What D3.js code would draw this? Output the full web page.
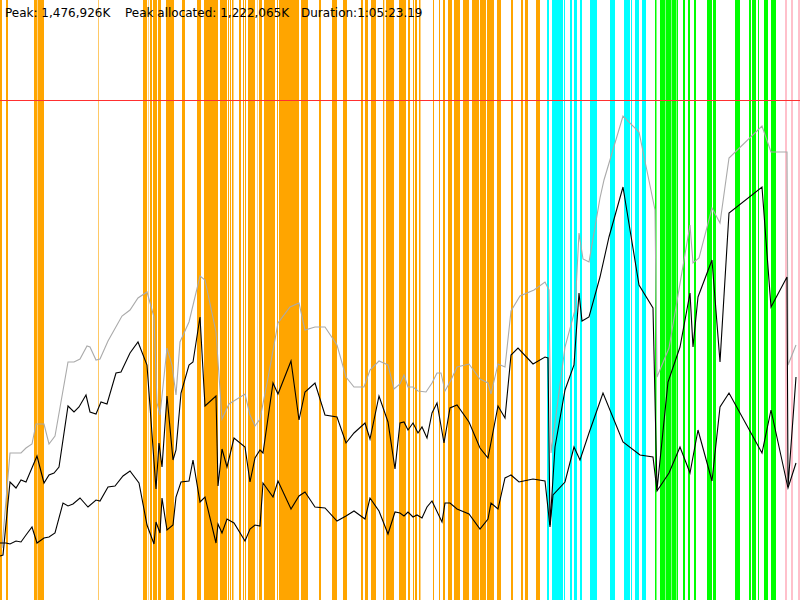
<!DOCTYPE html>
<html>
<head>
<meta charset="utf-8">
<script src="https://cdn.jsdelivr.net/npm/d3@7"></script>
<style>
  html, body { margin: 0; padding: 0; background: #fff; }
  svg { display: block; }
</style>
</head>
<body>
<svg id="chart" width="800" height="600"></svg>
<script>
// ---- data (time in sample units 0..800, memory in chart units 0..600) ----
const headerLabels = ["Peak: 1,476,926K", "Peak allocated: 1,222,065K", "Duration:1:05:23.19"];
const limitValue = 500;

const orangeEvents = [[0,2],[6,8],[34,37],[37.5,44],[98,98.6],[143,147],[148,148.5],[150,152],[153,157],[158,161],[166,174],[182,185],[197,201],
  [204,218],[220,227],[228,229],[230,231],[232,233.5],[239,241],[243,244],[245,246],[248,255],[257,257.5],[259,262],[264,275],[277,278],[279,299],[301,308],
  [319,321],[332,337],[343,347],[361,363],[365,368],[371,376],[383,384.3],[386,394],[399,406],[408,410],[413,414],[415,417],[419,420.5],[433,434],[439,440],
  [443,445],[448,452],[454,460],[463,469],[472,479],[480,486],[487,494],[497,501],[511,513],[521,523],[525,528],[536,540]];
const cyanEvents = [[547,549],[552,563],[564,565],[570,572],[574,577],[580,582],[590,597],[610,615],[624,630],[631,632],[635,639],[642,646]];
const greenEvents = [[655,656.5],[660,665],[665.5,671],[671.5,676],[676.5,678],[683,685],[688,690],[694,696],[707,712],[713,716],[735,740],[749,751],[752,756],[758,759],[764,768],[771,776]];
const pinkEvents = [[785,787],[791,793],[798,800]];

const grayTimes = [2,10,21,26,32,36,44,49,55,68,74,80,87,90,96,100,108,122,130,138,147,154,157,160,167,172,176,180,189,200,205,216,222,229,245,250,255,260,268,278,290,299,305,315,325,337,346,354,364,370,379,388,394,400,404,408,413,418,426,432,437,441,445,451,457,469,480,488,491,498,505,511,520,534,545,549,551,565,575,579,583,589,600,604,623,639,655,657,669,690,693,699,712,720,729,762,771,787,788,796];
const grayValues = [52,147,147,152,156,176,176,156,164,238,238,241,254,253,240,241,259,284,290,302,308,283,197,185,252,235,205,258,278,324,320,268,181,196,206,185,174,181,222,277,293,297,270,273,273,255,223,213,213,230,239,235,211,216,225,213,213,209,208,217,227,227,209,220,233,236,221,217,206,236,233,289,304,310,318,310,147,253,290,367,341,338,402,420,484,468,390,223,252,375,337,342,392,377,442,474,448,448,235,255];

const usedTimes = [0,3,10,16,21,26,37,44,49,54,59,68,74,79,86,90,96,101,107,116,121,130,138,147,156,159,162,167,173,176,181,189,193,200,205,216,218,222,227,234,245,250,255,260,263,273,278,291,299,305,315,325,337,346,354,365,370,379,388,395,400,404,408,413,418,422,427,432,437,444,450,457,469,480,488,498,505,511,518,533,545,548,550,555,565,574,579,582,589,600,609,623,639,653,657,668,680,690,693,698,712,720,729,762,771,787,788,796];
const usedValues = [44,45,118,112,120,118,144,117,125,127,133,194,188,193,205,188,186,198,196,227,228,247,258,235,111,157,133,204,140,150,207,235,238,283,194,204,114,151,133,162,153,118,142,150,147,217,206,239,180,208,217,185,183,157,167,177,161,204,178,131,177,178,170,177,167,173,162,187,197,157,192,195,178,152,142,194,182,245,252,236,243,242,75,153,210,235,307,279,283,323,363,413,315,292,110,218,253,307,253,303,340,238,387,413,293,323,113,223];

const allocTimes = [0,6,10,16,21,26,32,37,44,49,55,63,68,73,80,88,96,100,108,115,123,130,139,147,154,156,160,162,167,173,176,181,189,193,200,205,216,218,222,227,234,245,250,255,260,263,273,278,291,299,305,315,325,337,346,354,365,370,379,388,395,400,404,408,413,417,422,427,432,442,445,450,457,469,480,488,491,498,505,511,519,533,545,550,553,565,574,580,589,603,623,640,653,657,669,680,690,698,712,720,729,762,771,788,796];
const allocValues = [57,57,56,59,58,65,73,57,62,63,67,97,94,96,102,93,100,99,113,114,124,129,117,75,56,78,67,102,70,75,103,118,119,140,98,103,57,76,67,81,77,59,71,75,74,117,103,119,91,104,108,93,92,79,84,89,81,102,89,66,88,87,84,88,83,85,82,93,99,78,97,97,91,86,71,81,97,91,122,125,118,121,119,73,105,118,153,140,167,207,158,145,143,109,127,153,127,170,119,193,207,147,190,112,137];

// ---- drawing ----
const W = 800, H = 600;
const svg = d3.select("#chart");
const x = d3.scaleLinear().domain([0, 800]).range([0, W]);
const y = d3.scaleLinear().domain([0, 600]).range([H, 0]);

const bandGroups = [
  {events: orangeEvents, color: "#FFA500"},
  {events: cyanEvents, color: "#00FFFF"},
  {events: greenEvents, color: "#00FF00"},
  {events: pinkEvents, color: "#FFC0CB"}
];
const gBands = svg.append("g");
bandGroups.forEach(bg => {
  gBands.selectAll(null).data(bg.events).enter().append("rect")
    .attr("x", d => x(d[0]))
    .attr("width", d => x(d[1]) - x(d[0]))
    .attr("y", 0).attr("height", H)
    .attr("fill", bg.color);
});

svg.append("line")
  .attr("x1", 0).attr("x2", W)
  .attr("y1", y(limitValue) + 0.5).attr("y2", y(limitValue) + 0.5)
  .attr("stroke", "#ff3030").attr("stroke-width", 1);

function series(times, values) { return times.map((t, i) => [t, values[i]]); }
const line = d3.line().x(d => x(d[0])).y(d => y(d[1]));

svg.append("path").datum(series(grayTimes, grayValues))
  .attr("d", line).attr("fill", "none").attr("stroke", "#aaaaaa").attr("stroke-width", 1.1);
svg.append("path").datum(series(usedTimes, usedValues))
  .attr("d", line).attr("fill", "none").attr("stroke", "#000").attr("stroke-width", 1.1);
svg.append("path").datum(series(allocTimes, allocValues))
  .attr("d", line).attr("fill", "none").attr("stroke", "#000").attr("stroke-width", 1.1);

const labelX = [5, 125, 301];
svg.selectAll("text.hdr").data(headerLabels).enter().append("text")
  .attr("class", "hdr")
  .attr("x", (d, i) => labelX[i]).attr("y", 17)
  .attr("font-family", "DejaVu Sans, sans-serif").attr("font-size", 12)
  .attr("fill", "#000")
  .text(d => d);
</script>
</body>
</html>
